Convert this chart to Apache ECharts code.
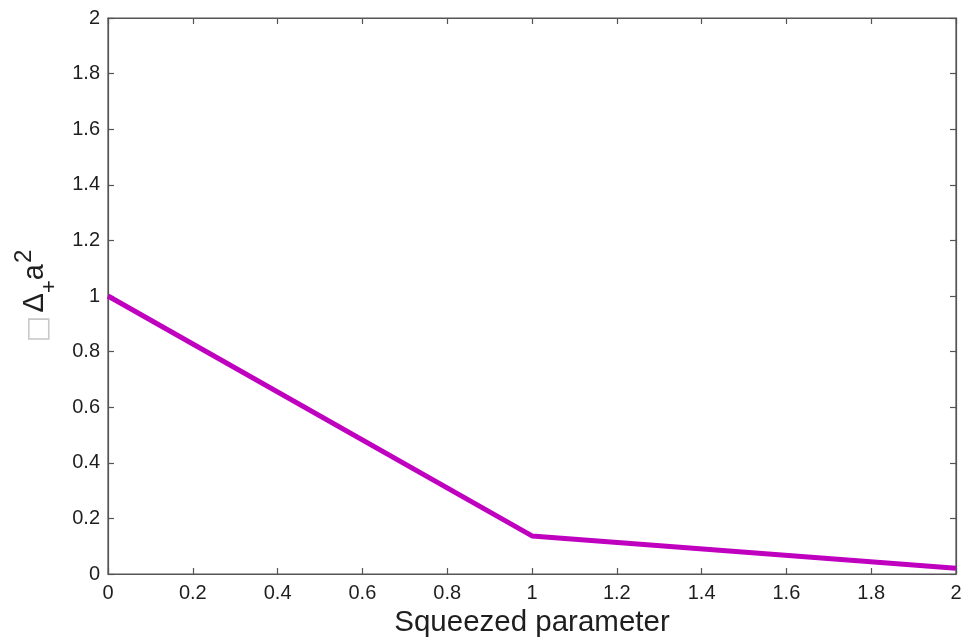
<!DOCTYPE html>
<html><head><meta charset="utf-8">
<script src="https://cdn.jsdelivr.net/npm/echarts@6/dist/echarts.min.js"></script>
<style>html,body{margin:0;padding:0;background:#fff}#c{width:961px;height:637px}</style>
</head><body><div id="c"></div>
<script>
const xValues = [0, 1, 2];
const yValues = [1.0, 0.137, 0.021];
const xTicks = [0, 0.2, 0.4, 0.6, 0.8, 1, 1.2, 1.4, 1.6, 1.8, 2];
const yTicks = [0, 0.2, 0.4, 0.6, 0.8, 1, 1.2, 1.4, 1.6, 1.8, 2];
const xName = 'Squeezed parameter';

const chart = echarts.init(document.getElementById('c'));
const fmt = v => String(Math.round(v * 10) / 10);
const axisCol = '#555555';
const txtCol = '#1e1e1e';
const font = 'Liberation Sans, Arial, sans-serif';
function mk(extra) {
  return Object.assign({
    min: 0, max: 2, interval: 0.2, type: 'value',
    axisLine: { show: true, onZero: false, lineStyle: { color: axisCol, width: 1.2 } },
    axisTick: { show: true, inside: true, length: 6, lineStyle: { color: axisCol, width: 1.2 } },
    splitLine: { show: false }
  }, extra);
}
chart.setOption({
  animation: false,
  backgroundColor: '#fff',
  grid: { left: 108, top: 18, right: 5, bottom: 63, containLabel: false, outerBoundsMode: 'none',
          show: true, borderColor: axisCol, borderWidth: 1.2 },
  xAxis: [
    mk({
      position: 'bottom',
      name: xName, nameLocation: 'middle', nameGap: 31,
      nameTextStyle: { fontSize: 29.5, color: txtCol, fontFamily: font },
      axisLabel: { fontSize: 20, color: txtCol, fontFamily: font, margin: 9, formatter: fmt }
    }),
    mk({ position: 'top', axisLabel: { show: false } })
  ],
  yAxis: [
    mk({
      position: 'left',
      name: '{box|\u25A1} {t|\u0394}{sub|+}{t|a}{sup|2}', nameLocation: 'middle', nameGap: 53,
      nameTextStyle: {
        color: txtCol, fontFamily: font,
        rich: {
          box: { fontSize: 28, color: '#c8c8c8', fontFamily: 'DejaVu Sans', lineHeight: 36, padding: [6, 0, 0, 0] },
          t: { fontSize: 29, color: txtCol, fontFamily: font, lineHeight: 36 },
          sub: { fontSize: 22, color: txtCol, fontFamily: font, lineHeight: 30, padding: [30, 0, 0, 0] },
          sup: { fontSize: 24, color: txtCol, fontFamily: font, lineHeight: 30, padding: [0, 0, 22, 1] }
        }
      },
      axisLabel: { fontSize: 20, color: txtCol, fontFamily: font, margin: 8, formatter: fmt }
    }),
    mk({ position: 'right', axisLabel: { show: false } })
  ],
  series: [{
    type: 'line',
    data: xValues.map((x, i) => [x, yValues[i]]),
    showSymbol: false,
    lineStyle: { color: '#BF00BF', width: 5 },
    itemStyle: { color: '#BF00BF' },
    clip: false
  }]
});
</script></body></html>
